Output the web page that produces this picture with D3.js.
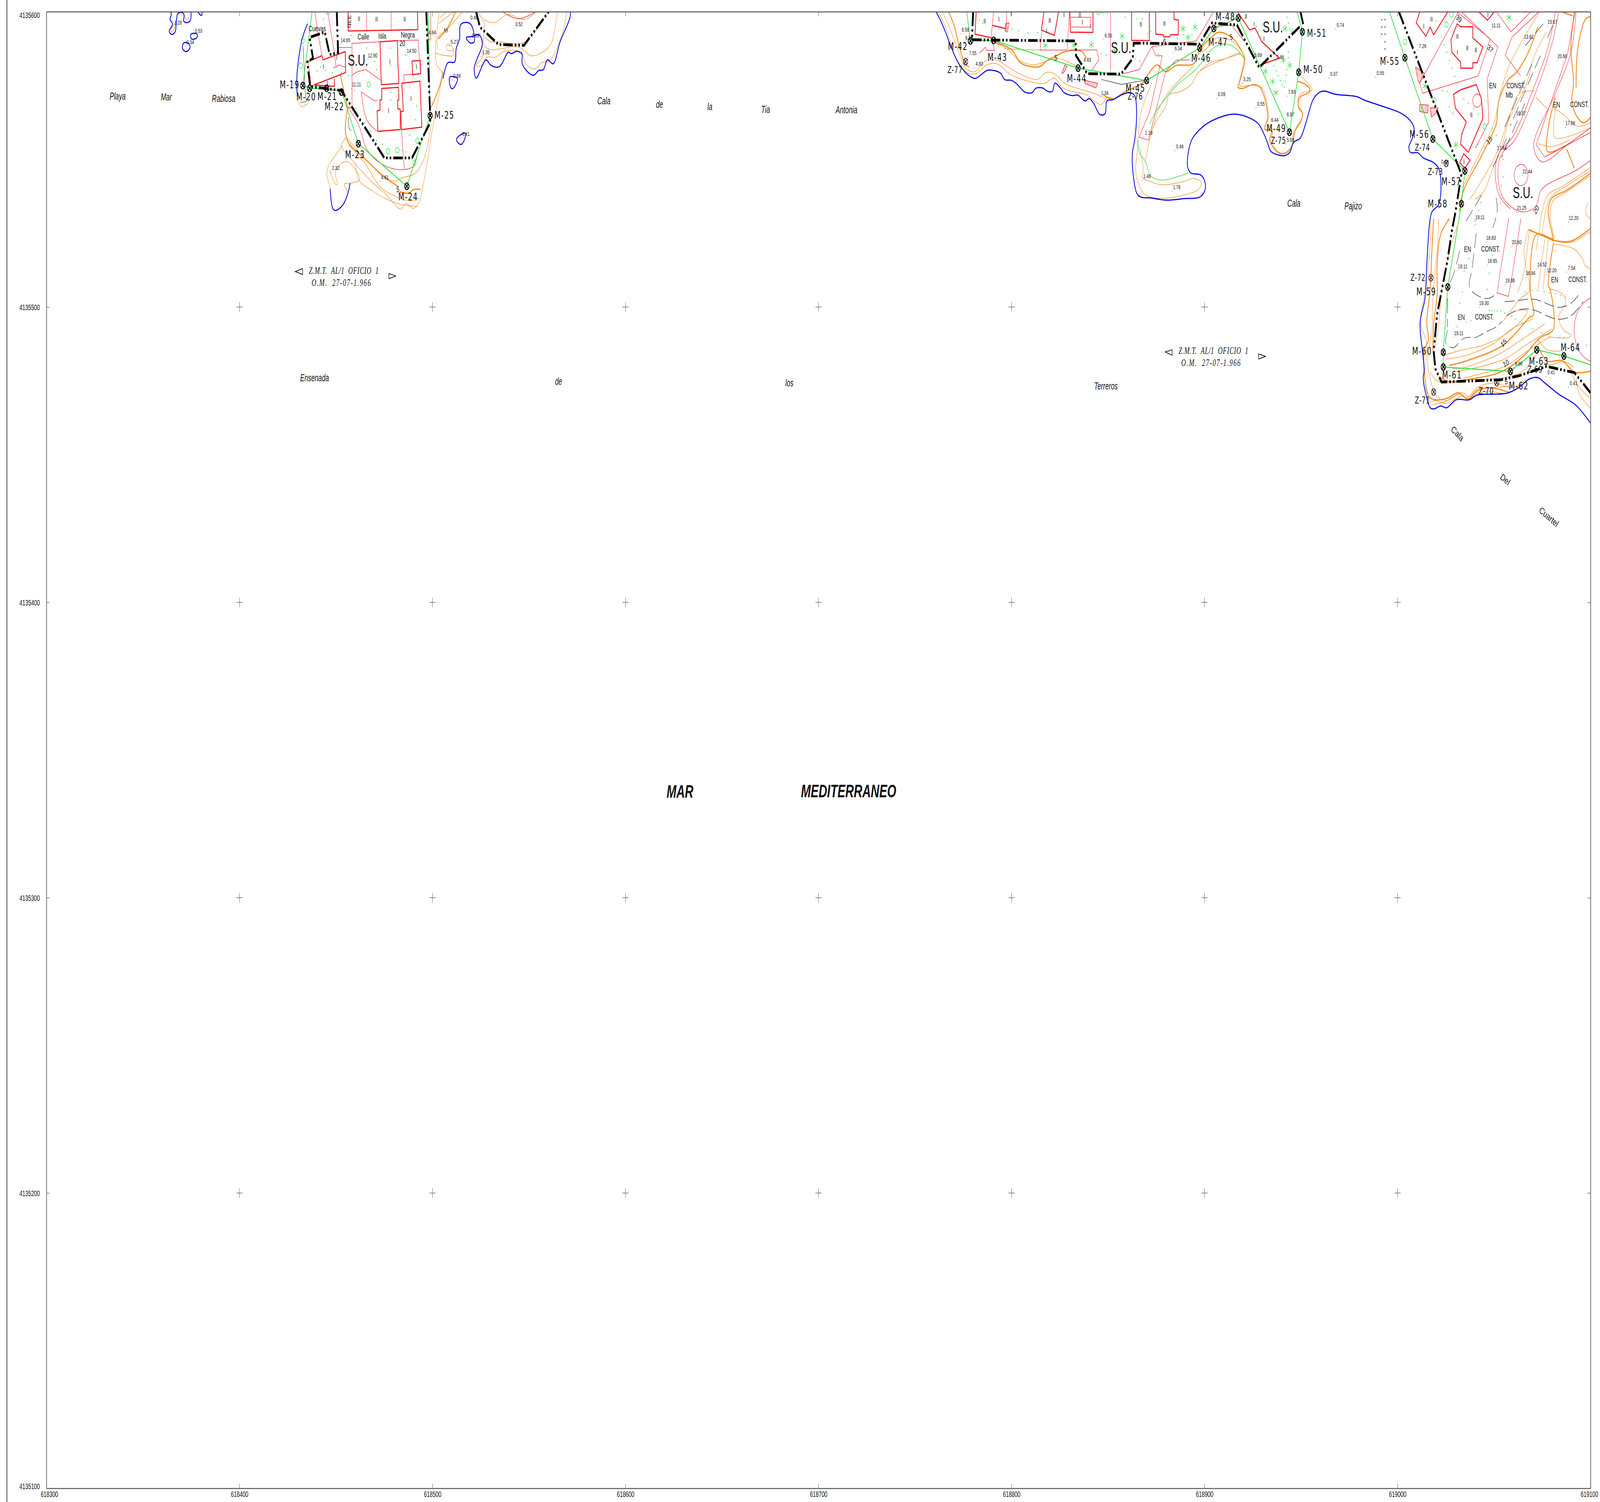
<!DOCTYPE html>
<html>
<head>
<meta charset="utf-8">
<title>Z.M.T. deslinde</title>
<script src="https://cdn.jsdelivr.net/npm/d3@7"></script>
<style>
  html, body { margin: 0; padding: 0; background: #fff; overflow: hidden; }
  svg { display: block; width: 100vw; height: 100vh; }
  text { fill: #111; font-family: "Liberation Sans", Arial, sans-serif; }
</style>
</head>
<body>
<div id="chart"></div>
<script>
// all map points are [metres east of 618000, metres north of 4135000]
var eastTicks = [618300, 618400, 618500, 618600, 618700, 618800, 618900, 619000, 619100]
var northTicks = [4135100, 4135200, 4135300, 4135400, 4135500, 4135600]

// shoreline
var coastLines = [
  [[364.3,600],[364.7,599],[364,597.5],[365.3,595.8],[363.6,593.4],[364.9,592.3],[366.7,593.2],[367.2,595.8],[367.8,599],[368.6,599.6],[370.7,599.6],[371.3,598.6],[371.1,596.8],[372.9,596.3],[374.6,597.2],[374.9,600]],
  [[378.5,600],[379.5,599],[380.4,598.8],[380.6,600]],
  [[435.3,596],[432.5,590.8],[430,580.4],[429.7,574.7],[430,571.4]],
  [[447,540],[448.2,533.6],[449.7,532.7],[453.6,534.6],[456.3,538.8],[457.3,541.9]],
  [[505.4,577.3],[507.9,582.7],[511.5,583],[512.3,587.5],[514,590.8],[514.5,595.5],[517.5,596.4],[520.1,595.5],[521.6,592.2],[521.6,589.8],[519.6,589.4],[517.5,591.2],[520.6,591.6],[524.1,592.2],[525.9,589.4],[522.6,583.2],[521.6,580.9],[522.6,577.5],[527.7,583.7],[530.2,581.9],[534.7,581.4],[539.3,586.3],[540.8,585.8],[543.8,586.6],[546.4,585.6],[546.4,582.7],[548.9,579.9],[552.5,578.5],[555,580.1],[557.5,580.4],[559.5,583.7],[562.6,582.4],[566.1,589.8],[571.2,597.9],[571.5,600]],
  [[760.9,600],[763.1,597.2],[765.8,593.1],[768.5,588.4],[772.4,582.7],[776.8,579],[781.1,577.4],[783.9,578.5],[787.2,580.1],[789.9,580.2],[794.3,579.2],[796.5,577],[799.8,576.8],[802.5,575.7],[804.2,574.5],[806.9,572.8],[810.7,572.6],[812.4,574],[815.9,574.2],[819.2,572.9],[821.2,573.1],[822.5,575.8],[825.8,573.8],[827.2,572.6],[831.6,571.6],[834.3,571.8],[838.1,569.8],[840.3,570.6],[842.5,569],[845.8,565.2],[848.5,565.5],[849.4,569.8],[852.4,570.2],[857.9,572.1],[861.7,572.6],[863.9,571.4],[864.8,566.2],[863.9,556.8],[862.6,552],[863.3,543.5],[865.5,537.9],[872.7,536.9],[880.3,536.2],[889.1,536.7],[897.9,537.4],[900.3,539.8],[900.1,542.6],[898.1,544.7],[892.9,545.4],[891.3,547.3],[891.5,552],[893.5,556.8],[899,561],[905.5,563.6],[915.4,565.3],[924,563.8],[928.3,561.7],[932.2,556.4],[934.3,552.8],[938.2,551.5],[941.5,551.3],[944.2,552.4],[946.1,555.7],[949.7,557.3],[952.4,562.1],[956.3,570.3],[959.6,572.7],[962.3,573.1],[967.4,572.1],[979.1,571.2],[982.7,570.1],[995.3,567.3],[1001.6,565.7],[1006.1,563.5],[1008.5,560.8],[1007.9,557.6],[1005.9,554.3],[1006.6,552.4],[1010.6,552.2],[1013.3,550.5],[1018.7,548.9],[1021.4,546.8],[1022.5,541.9],[1021.4,534.9],[1017.8,532.2],[1016.6,528.4],[1015.8,521.8],[1015.1,513.7],[1014.2,502.9],[1011.7,494.8],[1012.9,485.1],[1013.8,478.6],[1013.3,475.9],[1015.1,469.4],[1016.9,465.9],[1018.9,465.5],[1022.3,466.5],[1025.5,465.9],[1030.4,468.6],[1037.2,468.6],[1041.2,470.2],[1049.3,470.5],[1056.5,470.8],[1062.8,472.7],[1068.2,475.6],[1072.7,476.1],[1076.3,474.3],[1083.5,470.5],[1092.5,466.7],[1100.2,460.5]]
]
var islets = [
  [[374.9,592.4],[377.9,592.5],[378.2,591.7],[377.3,590.9],[375.1,590.8],[374.7,591.7]],
  [[371.1,589.4],[373.5,589.3],[374.4,587.9],[372.9,586.6],[371.3,586.8],[370.4,587.9]],
  [[508.9,577.8],[511,578],[513,577.3],[511.5,574.7],[510.3,573.9],[509.2,574.7]],
  [[512.5,557],[517,558.9],[517,557.5],[515,555.1],[513,555.8]]
]

// thin contours
var contoursThin = [
  [[365.3,593.2],[366.5,594.7],[366.7,596],[365.3,595],[364.3,593.4],[365.3,593.2]],
  [[371.8,600],[371.9,597.9],[372.9,597.4],[373.8,598.3],[374,600]],
  [[430.5,574.7],[430.3,570.9],[432,567.9],[435.6,569]],
  [[455.3,557.5],[452.8,554.6],[457.3,550.6],[469,542.1],[476,538.1],[480.1,535],[483.6,533.1],[486.2,535],[490.2,533.4],[493.3,536],[494.8,540.2],[497.5,549.9],[500.3,561.5],[504.4,575.7],[504.9,579.4],[502.4,581.8],[501.4,586],[503.4,599.7]],
  [[455.8,557.2],[461.9,552.5],[472,545.9],[480.1,542.6],[484.6,543.8],[491.2,545.4],[495.8,550.6],[499.3,561.5]],
  [[456.3,554.9],[464.9,548.7],[473,540.7],[481.1,537.4],[488.2,536],[493.3,536.9]],
  [[459.9,548.7],[461.9,543.1],[469,539.3],[478.1,536],[484.6,534.6],[492.2,534.1]],
  [[453.3,554.6],[446.2,547.8],[445.2,545.4],[447.2,540]],
  [[446.7,546.4],[449.7,541.6],[450.7,541.6],[449.7,545.9],[454.8,549.3],[457.8,548.3],[462.4,543.3],[457.3,541.9],[454.3,541.6],[456.3,538.8]],
  [[502.9,587],[502.4,590.8],[508.4,594.6],[515.5,600]],
  [[503.4,597.9],[507.4,600]],
  [[503.4,596],[511,600]],
  [[507.4,588.9],[509.9,588.4],[510.5,587],[508.4,586.8],[507.2,587.7],[507.4,588.9]],
  [[501.4,586],[507.4,585.1],[511,585.3],[510.5,587.7]],
  [[523.1,600],[526.6,596.4],[526.6,588.9],[530.2,587.2],[535.8,587.5],[542.3,588.2],[546.4,587.5],[550.9,585.1],[557,586.3],[561.6,589.4],[564.6,599.7]],
  [[526.6,591.7],[530.2,589.8],[534.2,589.8],[547.4,589.6],[555,595],[559.5,600]],
  [[524.6,592.7],[526.1,585.1],[522.6,581.8],[525.5,581.8],[528.1,584.6],[532.7,584.6],[536.8,586.5],[543.8,586.8],[546.9,585.6],[547.9,582.7],[553,580.6],[556.5,582.7],[561.1,583.7],[567.1,592.2],[569.6,600]],
  [[526.6,597.4],[530.2,596.4],[532.6,596.4],[538.8,599],[547.9,597.4],[553.7,600]],
  [[762,600],[766.3,594.1],[770.7,585.1],[774.6,580.9],[778.4,579],[782.2,579.2],[787.2,582],[792.7,582.3],[798.1,579.4],[803.6,577.5],[811.3,576.1],[816.8,575.7],[822.2,577.5],[826.6,574.2],[833.2,572.8],[838.7,571.9],[846.4,568.6],[849.6,570.9],[852.9,570.5]],
  [[764.2,600],[768.5,593.6],[772.9,586],[776.2,580.9],[781.1,579.7],[786.1,583.2],[792.7,583.5],[799.2,580.9],[805.8,578.5],[813.5,577.1],[817.9,579.4],[822.2,579],[827.7,575.7],[835.4,573.8],[843.1,572.3],[849.1,570.5]],
  [[791.6,589.4],[798.1,587.2],[803.6,583.7],[811.3,582],[816.8,583],[823.3,584.2],[828.8,583.2],[835.4,580.9]],
  [[796,587.5],[807,587.2],[816.8,587]],
  [[920.6,584.6],[919.5,580.2],[917.9,575.8],[918.4,574.9],[925.6,575.1],[930,574],[931.9,570.5],[933.3,564.3],[932.7,562.1],[935.4,559.9],[934.9,556.4],[937.6,552.8],[941.5,552.2],[944.8,554.2],[946.4,557.3],[947.5,560.8],[950.8,564.3],[950.3,566.5],[948.3,568.7],[949.7,572.2],[955.7,573.6],[953.5,575.8],[950.3,578]],
  [[897.6,580],[903.1,582.8],[911.3,584.2],[917.9,585.9],[921.2,583.7]],
  [[897.6,585.9],[902,588.1],[905.8,591],[911.9,590.8],[916.2,589],[919.5,586.4]],
  [[866.1,554.4],[868.3,546.8],[867.7,544],[871.6,542.6],[878.1,541.4],[888,542.3],[894.6,543.5],[898.4,542.1],[896.8,539.8],[890.2,538.1],[880.3,536.9],[872.7,537.1],[868.3,538.6],[864.5,545],[865,552],[867.2,566.2],[872.7,575.7]],
  [[869.4,549.7],[871.6,556.8],[873.8,561.5],[880.3,568.6],[881.5,571.9],[886.9,572.8],[892.9,575.2],[896.8,579.4],[905.5,582.7],[918.7,585.8]],
  [[872.7,559.1],[876,566.7],[881.5,572.8],[894.6,581.8]],
  [[1077.2,593.2],[1070.9,585.1],[1066.4,574.8],[1057.4,563],[1050.2,550.5],[1037.6,536.5]],
  [[1073.6,600],[1067.3,593.2],[1058.3,582.4],[1053.8,573.8],[1049.8,561.9],[1043,552.7],[1033.6,540.3]],
  [[1070.9,573.2],[1062.8,572.1],[1058.3,565.1],[1053.8,553.8],[1049.3,546.8],[1044.8,539.2],[1040.3,536.5]],
  [[1082.6,569.4],[1080.8,560.8],[1081.7,557.3],[1100.2,560.8]],
  [[1080.8,567.3],[1086.2,565.1],[1092.5,561.3],[1100.2,562.4]],
  [[1072.7,555.4],[1079.9,554.3],[1088.9,556.5]],
  [[1071.6,571.1],[1077.7,567]],
  [[1100.2,547.3],[1085.3,540.8],[1078.1,538.1],[1075.4,533.8],[1073.2,525.2],[1071.8,519.3]],
  [[1100.2,546.2],[1087.1,540.8],[1079,537],[1076.8,532.7],[1075,525.2]],
  [[1100.2,544.6],[1088,539.2],[1080.4,535.7],[1079,531.6],[1081.2,523.5]],
  [[1080.8,522.5],[1089.8,521.9],[1100.2,525.7]],
  [[1098.8,535.4],[1097.4,532.2],[1100.2,529.5]],
  [[1016.9,529.9],[1016.9,521.3],[1015.1,508.3],[1011.9,494.8],[1015.1,487.8],[1014.2,475.9],[1016.9,467.8]],
  [[1021.4,529.9],[1020.5,519.1],[1019.6,513.7],[1018.3,501.8],[1017.8,492.1],[1015.6,481.3],[1016.9,475.9],[1019.6,470.5],[1025,468.3],[1032.2,470.5],[1035.8,469.2],[1041.2,472.7],[1050.2,474.3],[1059.2,472.7],[1065.5,474.8]],
  [[1030.8,527.2],[1026.8,518.6],[1023.2,507.2],[1021.4,494.8],[1019.6,486.7]],
  [[1016.9,478.1],[1019.6,475.4],[1026.8,474.3],[1037.6,475.4],[1053.8,475.9],[1065.5,478.6],[1072.7,485.1],[1073.2,488.9]],
  [[1023.7,483.5],[1031.3,485.1],[1044.8,487.2],[1056.5,491],[1065.5,496.4],[1067.3,498.6],[1062.8,498.9],[1057.4,497.5]],
  [[1025,482.4],[1034.9,483.5],[1050.2,487.8],[1059.2,492.6],[1070,495.9]],
  [[1028.6,479.1],[1035.8,479.7],[1053.8,484.5],[1062.8,488.3],[1076.3,494.3]],
  [[1031.3,478.1],[1055.6,482.4],[1065.5,486.7],[1079.9,492.6]],
  [[1034,475.9],[1056.5,480.2],[1067.3,485.1],[1079,489.9]],
  [[1054.7,495.3],[1063.7,502.9],[1068.2,505.6],[1065.5,519.1],[1067.8,526.4]],
  [[1062.4,505],[1065.5,512.1],[1068.2,525.6]],
  [[1072.7,506.1],[1076.3,522.9]],
  [[1075.4,506.1],[1078.1,522.9]],
  [[1079,506.1],[1085.3,504.5],[1087.1,501.8],[1083.5,496.4],[1086.2,492.1],[1089.8,490.5],[1088.9,489.7],[1078.1,489.9]],
  [[1072.3,489.4],[1077.2,485.6],[1084.4,485.1]],
  [[1092.5,475.9],[1094.3,470.5],[1100.2,465.6]],
  [[1080.8,521.3],[1091.6,519.6],[1096.1,515.9],[1097,514.2],[1100.2,512.9]],
  [[1016.9,467.8],[1019.6,468.3],[1025,467.3],[1033.1,469.7],[1037.2,468.9],[1041.2,470.8],[1049.3,471.3],[1056.5,470.8],[1063.7,473.7],[1066.4,475.9]],
  [[1017.8,467],[1024.1,467.8],[1033.1,471],[1037.2,469.7],[1041.2,472.1],[1049.3,472.7],[1059.2,473.2]],
  [[1075.4,481.3],[1079,480.5],[1086.2,481.6],[1091.2,479.7]],
  [[1089.8,478],[1094.3,472.7],[1100.2,468.9]]
]

// every fifth contour, drawn heavier
var contoursThick = [
  [[452.3,578.5],[454.8,570.9],[455.8,567.6],[454.8,560.1],[456.3,555.8],[461.9,552],[468,548.3],[474,544.5],[482.1,540.9]],
  [[483.1,539],[487.7,538.6],[490.2,539.8],[493.8,539.8]],
  [[499.3,567.6],[503.9,575.2],[505.4,579.9]],
  [[502.9,590.8],[507.4,594.1],[512,600]],
  [[455.8,567.6],[458.8,567.5]],
  [[767.4,600],[770.2,595.5],[772.9,588.4],[775.7,582.7],[777.9,581.3]],
  [[791,589.8],[800.3,587],[804.7,582.7],[814.6,581.4],[817.9,583.2],[823.3,585.1],[827.7,586.5],[836.5,586.5],[838.7,584.2]],
  [[847.5,571.9],[852.4,570.4],[857.3,572.3],[861.7,573.8],[868.3,576.1],[870.5,578.5],[875.4,582],[879.8,579.7],[885.3,581.8],[894.6,582.5],[897.9,587.5],[903.4,591.2],[906.9,593],[911.3,592.4],[915.7,590.3],[920.1,585.5],[920.9,583.7],[919.8,580.2],[918.4,576.7],[917.3,574.5],[919.5,574],[925,575.3],[928.3,574.7],[930.5,572.2],[932.7,564.3],[931.6,561.7],[931.1,560.3],[934.9,559.5],[933.8,556.8],[936,553.7],[939.3,552],[943.1,552.6],[945.3,554.6],[946.4,559],[950.3,563.4],[950.8,565.6],[948.6,567.8],[949.2,570.9],[954.1,572.7],[954.6,573.6],[952.4,575.3],[948.3,576.4]],
  [[1072.7,594.8],[1067.3,585.6],[1061.5,579.4],[1057.4,577],[1052.5,570],[1051.1,561.9],[1047.5,556.5],[1043,550.5],[1035.8,541.9],[1033.1,537],[1032.2,532.2]],
  [[1091.6,600],[1089.8,587.8],[1091.2,575.9],[1090.3,570.5],[1091.6,566.2],[1096.1,562.4],[1100.2,564.3]],
  [[1100.2,598.3],[1097.4,597.5],[1093.4,587.8],[1092.5,574.3]],
  [[1084.9,600],[1090.7,598.6]],
  [[1081.7,571.1],[1078.1,560.8],[1077.7,552.7],[1088.9,555.4]],
  [[1087.6,553.5],[1091.6,547]],
  [[1100.2,545.4],[1088,539.7],[1079.5,536.5],[1078.1,532.2],[1080.8,523]],
  [[1068.2,526.2],[1080.8,522.5]],
  [[1018.7,529.9],[1017.8,519.1],[1016.9,505.6],[1015.1,494.8],[1016,488.9],[1013.8,485.1],[1015.6,470.5],[1017.8,468.9],[1022.3,468.6],[1026.8,469.4],[1031.3,471],[1036.7,468.9],[1041.2,471.6],[1047.5,472.7],[1058.3,471]],
  [[1026.8,529.9],[1022.3,524.5],[1020.5,514.2],[1020.5,504],[1018.7,494.3],[1018.3,485.1]],
  [[1021.4,476.4],[1026.8,474.8],[1037.6,475.6],[1053.8,478.1],[1065.5,483.5],[1071.8,488.3],[1074.5,489.9],[1080.8,492.6],[1079,506.1],[1078.1,507.2],[1080.8,521.8]],
  [[1026.8,480.2],[1035.8,481.8],[1053.8,486.7],[1061,491],[1068.2,496.4],[1070.5,497.5],[1068.7,506.1],[1071.8,524.5],[1080.8,522.3]],
  [[1073.6,485.6],[1077.2,481.8],[1085.3,481.8],[1091.6,478],[1100.2,478.3]],
  [[1080.8,522.6],[1089.8,522.3],[1100.2,526.7]],
  [[1067.8,526.1],[1080.8,522.9]]
]

// contours of the green colour along the beach
var greenCurves = [
  [[871.6,562],[874.8,566.2],[882.5,572.8],[885.8,575.2],[894.6,579.9],[899,583.2],[903.1,586.8],[906.9,588.6],[912.4,588.9],[916.8,587.2],[920.9,583.7]],
  [[865.5,556.8],[866.1,552.5],[869.4,549.2],[872.1,544.5],[878.1,543],[891.8,545.5]]
]

// poligonal de deslinde (green)
var greenLines = [
  [[437.6,600],[432.8,575],[436.6,574.1],[452.8,573.3],[461.6,555.3],[486.7,540.9],[498.8,564.8],[497.8,600]],
  [[776.8,600],[778.7,590.1],[790.7,590.3],[834.5,580.9],[870,576.7],[897.5,587.7],[904.8,594.3],[917.5,597.9],[944,559.2],[948.8,579.5],[950.7,593.2],[948,600]],
  [[995.8,600],[1003.8,584.4],[1018.3,556.9],[1034.9,546.1],[1033.1,535],[1026,506.8],[1023.7,484.7],[1023.7,479.7],[1058.5,478.2],[1072.1,485.5],[1086.2,483.4],[1100.2,480.4]]
]

// zona maritimo-terrestre limit, dash-dot
var boundaries = [
  [[450.4,600],[451.1,586.1],[446.7,585.5],[444.2,593.1],[436.3,591.3],[438.1,584.2],[435.1,583],[436.6,574.7],[452.8,573.3],[474.5,551.1],[475,550.5],[489.4,550.5],[498.8,562.4],[498.8,564.8],[496.8,600]],
  [[522.6,600],[524.6,594.8],[534.2,588.9],[547.4,588.6],[560.2,600]],
  [[780.1,600],[779.5,590.5],[833.2,590.1],[833.4,585.1],[836.5,582],[839.2,579],[856.8,578.9],[862.8,584.2],[863.3,589.4],[897.3,589],[903.9,596.2],[916.8,595.5],[928.3,581.1],[949.7,595.2]],
  [[949.7,600],[951.1,595.8]],
  [[1000.7,600],[1033.1,544.9],[1030,532.2],[1028.2,526],[1025.9,515.9],[1020.5,497.5],[1018.7,485.1],[1019.6,479.1],[1022.8,474.6],[1053.8,475.4],[1062.8,476.7],[1077.2,479.9],[1091.6,477.8],[1100.2,470.8]]
]

// buildings
var buildingsClosed = [
  [[472.8,589.8],[481.8,590.2],[482.1,582.7],[482.6,575.7],[473.5,575.3]],
  [[489.4,583.3],[493.8,583.5],[493.8,579],[489.7,578.7]],
  [[484.1,575.8],[493.5,576.5],[494.5,560.9],[483.9,560.1],[483.6,566.2],[484.9,566.3]],
  [[473.7,574],[482.4,574.4],[482.6,570.2],[481.9,570],[482.1,567.2],[483.3,566.9],[483.3,560.1],[471.7,559.5],[471.3,566.4],[472.8,566.7],[472.8,570.1],[473.7,570.2]],
  [[1030.9,595.9],[1027.7,590.5],[1028.2,586.2],[1032.7,582.9],[1032.7,580.9],[1039,580.9],[1039,582.7],[1041.2,582.7],[1044.2,588.1],[1039,591.1],[1039,594.9],[1032.7,594.9]],
  [[1029,572],[1032.4,573.5],[1040.8,575.3],[1043.5,570.5],[1044.2,563.8],[1036.7,552.4],[1032.7,555.1],[1033.1,558.1],[1035.6,562.7],[1030,567.3]],
  [[1034.3,551.9],[1037.6,549.7],[1034.9,547],[1032.2,548.9]]
]
var buildingsOpen = [
  [[456.3,600],[456.3,593.5],[492.4,593.9],[492.2,600]],
  [[435.1,583],[442.7,585.1],[443.2,583.7],[454.8,586.5],[455,579.4],[438.6,575.2],[449.2,574.7],[449.2,577.3]],
  [[781.7,600],[781.1,592.4],[789.4,591.2]],
  [[789.9,595.4],[797,594.3]],
  [[816.8,600],[815.5,593.8],[822.2,592],[824.4,600]],
  [[830.2,600],[830.5,593.1],[842.2,593],[842.2,600]],
  [[862.2,600],[862.2,590.3],[871.4,590.2],[871.4,600]],
  [[874.7,600],[874.7,592.4],[878.7,592.2],[878.7,591.5],[882,591.5],[882.3,592.2],[886.4,592.2],[886.4,597.2],[884.2,597.4],[884.2,600]],
  [[917,600],[923.4,593.8],[926.2,594.5],[929.5,590],[938.8,584.3],[929,582]],
  [[1011.5,600],[1009.7,596.2],[1014.7,591.7],[1016.9,594.8],[1018.7,592.2],[1026.1,600]],
  [[1042.1,600],[1046.6,597.1],[1050.2,600]]
]

// parcels
var parcels = [
  [[465.9,600],[465.9,593.6]],
  [[478.6,600],[478.6,593.7]],
  [[458,589.3],[473,589.8],[481.8,590.2],[492.5,590.4],[493.8,579],[485.1,578.6],[485.4,576.1]],
  [[458.3,589.3],[458.3,567.6]],
  [[463.1,572.8],[469.8,569.9],[471.5,569.9]],
  [[458.3,578.5],[461.1,579.7],[465.4,580.4],[473.2,576.8]],
  [[483.9,560.1],[485.4,546.6]],
  [[451.6,587.9],[458,587.9]],
  [[439.1,600],[440.6,592.7],[443.2,583.7]],
  [[445.7,600],[448.7,587.9],[450.2,580.9]],
  [[448.5,580.9],[451.6,582],[455,581.1]],
  [[437.1,575.7],[435.6,583]],
  [[496.8,600],[497.8,590.5],[499.1,590.5],[499.1,600]],
  [[797.6,600],[797,593.4]],
  [[790.7,600],[789.4,591.2],[791.3,586.9],[787,586.9],[786.6,588],[783.3,586]],
  [[815.7,593.8],[814.8,587],[828.8,587],[829.9,600]],
  [[829.7,587],[844.2,587.1],[845.3,583.7],[841.4,580.1]],
  [[851.3,600],[851.3,579.9]],
  [[857.9,579],[866.1,580.4],[872.7,588.2],[895.7,590.1],[904.4,599.7]],
  [[872.7,588.2],[874.8,585.1],[878.1,585.1],[871.6,566.2],[866.1,557.5],[871,556.5],[879.8,579.7],[885.3,583.6],[892.4,583.7]],
  [[830.5,598.1],[840.9,598.1],[840.9,594.8],[831,594.8]],
  [[903,594.8],[914,595.5],[920.5,590]],
  [[1031.3,599.7],[1011.5,575.9],[1012.9,572.4],[1041.7,578.2],[1048,590.8],[1030.8,600]],
  [[1051.5,599.7],[1058.8,593.2],[1069.1,600]],
  [[1052,588.1],[1046.4,577.2],[1047.1,566.2],[1047.1,562.4],[1040.3,553.8]],
  [[1052,588.1],[1033.1,600]],
  [[1059.2,591.3],[1055.8,585.3],[1063.7,578.3]],
  [[1059.2,591.3],[1073.2,600]],
  [[1057.6,529.9],[1053.1,511.4],[1051.6,504.8],[1057.4,503.6],[1059.2,509.9],[1063.9,529.9]],
  [[1092,599.7],[1088,585.6],[1071.8,554.9],[1076.3,550.8],[1100.2,559.2]]
]
// same colour but rounded
var parcelCurves = [
  [[456.3,567.6],[461.9,561.5],[465.9,553.5],[474,548.3],[484.1,546.5],[490.2,547.8],[492.2,552]],
  [[463.1,572.8],[465.9,563.4],[471.5,559.5]],
  [[536.2,600],[544.4,597.6],[553.5,600]],
  [[1083.5,600],[1079.9,588.9],[1070,570],[1060.6,556.5],[1053.8,551.6],[1052,546.2],[1053.8,538.1],[1059.2,533.8],[1065.5,532.2],[1071.8,534.3],[1074.5,539.7],[1092.3,546.2],[1100.2,549.7]],
  [[1081.7,600],[1078.1,588.3],[1068.7,571.1],[1059.7,557.6],[1052.9,552.7],[1050.6,546.8],[1052.5,538.1],[1058.3,533.3]],
  [[1092.5,600],[1089.8,586.2],[1081.3,571.6],[1070.5,554.6],[1074.7,549.2],[1088.9,555.4],[1100.2,560.8]]
]
var parcelCircles = [[1041.2,569.9,2.25],[1064,544.7,3.6],[1102.4,492.3,10.9]]

// stair hatch
var stairs = [
  [[838.1,576.8],[844.7,575.7],[843.6,574.2],[838.1,575.7]],
  [[827.7,582],[828.8,581.3],[826.6,579],[826.1,579.4]],
  [[797,596],[798.7,596.2],[797.9,593.1],[796.7,593.4]],
  [[1009.3,581.3],[1013.8,579.2],[1011.5,575.7],[1010.6,576.5]],
  [[1011.5,568.6],[1016,568.4],[1015.6,565.7],[1011.5,566.2]],
  [[1016.9,567.5],[1021,567.4],[1020.1,565.7],[1017.5,564.3]]
]

// thin black cliff lines
var cliffLines = [
  [[846.4,577.1],[856.8,575.4],[869.4,576.8]],
  [[433,588.4],[434,573.3],[434.6,569.5],[431.5,569.3]],
  [[456.3,564.3],[456.8,560.5],[457.8,559.8]]
]
var cliffDashed = [
  [[1025.9,492.1],[1025,487.8],[1029,486.2],[1033.1,488.9],[1035.8,489.7],[1040.3,489.7],[1043,490.5],[1047.5,492.1],[1050.2,492.9],[1054.2,495.1]],
  [[1025.9,502.9],[1025.9,493.2]],
  [[1040.8,525],[1038.5,512.6],[1037.2,507.2],[1039.4,504.8],[1047,502.9],[1051.6,504.8]],
  [[1032.2,519.1],[1029.5,512.1],[1026.8,507.8]],
  [[1055.6,501.8],[1061,502.1],[1070.9,502.6],[1083.5,499.9],[1089.8,501.3],[1094.3,504.5]],
  [[1056.5,497],[1062.8,499.1],[1070,499.1],[1082.6,495.9],[1089.8,497],[1096.1,501.8]],
  [[1075.4,595.9],[1066,588.3]],
  [[1080.4,595.4],[1077.6,591]],
  [[1074,585.1],[1058.3,561.3]],
  [[1069.6,582.4],[1054.7,559.7]],
  [[1065.9,568.9],[1053.8,550.5]],
  [[1056.5,557],[1049.3,547.3]],
  [[1051.1,537],[1051.6,532.2],[1049.3,526.8]],
  [[1043.5,537.9],[1034.9,528.4]]
]

// monument markers
var mojonNames = ['M-19','M-20','M-21','M-22','M-23','M-24','M-25','M-42','M-43','M-44','M-45','M-46','M-47','M-48','M-49','M-50','M-51','M-55','M-56','M-57','M-58','M-59','M-60','M-61','M-62','M-63','M-64']
var mojonPoints = [[432.8,575],[436.4,574.1],[445.2,574.1],[452.8,572.8],[461.6,555.3],[486.7,540.9],[498.8,564.8],[778.7,590.1],[790.7,590.3],[834.5,580.9],[870,576.7],[897.5,587.7],[904.8,594.3],[917.5,597.9],[944,559.2],[948.8,579.5],[950.7,593.2],[1003.8,584.4],[1018.3,556.9],[1034.9,546.1],[1033.1,535],[1026,506.8],[1023.7,484.7],[1023.7,479.7],[1058.5,478.2],[1072.1,485.5],[1086.2,483.4]]
var mojonLabelPoints = [[426,575.3],[434.6,571.3],[445.5,571.4],[449.2,568],[459.9,551.7],[487.4,537.4],[506.2,565],[772.2,588.3],[792.7,584.6],[833.8,577.5],[864.2,574.2],[898.2,584.4],[907,589.8],[910.8,598.4],[937.2,560.6],[956.3,580.5],[958.2,592.8],[996,583.3],[1011.3,558.5],[1027.9,542.6],[1020.8,535],[1014.9,505.3],[1012.7,485.1],[1028.2,477.1],[1062.8,473.4],[1073.2,481.7],[1089.6,486.4]]

var zNames = ['Z-69','Z-70','Z-71','Z-72','Z-73','Z-74','Z-75','Z-76','Z-77']
var zLabelPoints = [[1071.2,478.9],[1045.9,471.7],[1012.9,468.5],[1010.6,510],[1019.6,545.8],[1012.9,554],[938.3,556.4],[864.1,571.4],[770.7,580.4]]
var zPoints = [[1051.4,474.4],[1018.7,471.2],[1017.3,509.9],[1025.2,548.6],[776.2,583.1]]

// spot heights
var spotHeights = [
  ['1.28',368.2,596.3],['0.53',378.8,593.6],['0.34',374.5,589.7],['14.65',454.9,590.4],['12.90',469,585.3],['14.50',489.2,586.8],['11.11',460.6,575.4],['14.84',499.3,593],['5.27',511.3,589.9],['0.89',522.3,592],['0.40',521.6,598.1],['3.52',544.8,595.8],['1.35',527.7,586.3],['0.68',512.7,578.3],['0.41',517.3,558.7],['2.32',449.9,547.1],['4.61',475.3,544],
  ['8.58',776.1,594],['6.55',778,591.2],['7.55',779.9,586],['4.83',783.3,582.5],['4.83',839.3,583.8],['6.55',850.2,592],['6.34',886.4,587.6],['1.34',848.3,572.6],['1.16',871.1,559],['0.46',887.2,554.4],['1.48',870.2,544.3],['1.76',885.6,540.7],['0.09',908.8,572.1],['3.25',922,577.2],
  ['5.69',927.8,585.4],['7.46',939.1,584.7],['0.74',970.4,595.6],['0.37',967,579],['7.83',945.2,572.9],['6.97',944.5,565.2],['6.44',936.4,563.4],['5.69',944.5,556.7],['0.55',929.2,568.9],
  ['0.55',991.1,579.3],['7.26',1013,588.4],['11.11',1051.1,595.4],['13.62',1068,591.6],['15.67',1080.2,596.6],['20.66',1085.3,585],['18.37',1063.9,565.7],['17.68',1089.5,562.3],['17.44',1054,553.9],['21.44',1067.3,546],['21.25',1064.3,533.6],['19.11',1042.7,530.5],['12.20',1091.2,530.2],['18.83',1048.4,523.5],['20.60',1061.7,522],['0.89',1024.6,549.2],
  ['18.65',1049.1,515.6],['19.11',1033.7,513.8],['14.52',1074.9,514.5],['7.54',1090.2,513.3],['12.20',1079.9,512.5],['16.94',1068.9,511.5],['19.86',1058.3,509],['19.30',1044.8,501.4],['19.11',1031.7,491.2],['8.88',1062.8,480.9],['0.41',1079.6,477.9],['0.41',1091.2,474.3]
]
// floors of buildings
var floorMarks = [
  ['II',461.9,597.6],['II',471,597.5],['II',485.6,597.5],['I',450.4,584.6],['I',443.5,581.4],['I',477.9,583.1],['I',491.7,581.4],['I',488.9,570.7],['I',477.2,566.5],['I',445.7,575.8],
  ['II',786.1,596.9],['I',793.5,597.5],['II',819.8,597.1],['I',818.2,593.5],['II',835.4,599],['I',836.7,596.5],['I',840.9,595.1],['II',867,595.8],['II',879.2,596],['I',827.2,599],['I',799.8,599.3],['I',899.8,599.3],['II',921.4,598.4],['I',925.7,595.8],['I',930.8,590.9],
  ['II',1017.6,597.5],['I',1013.6,595.1],['II',1031,591.7],['II',1036.1,587.7],['II',1040.6,587],['I',1031,586.3],['II',1038.2,565.1],['I',1034.4,549.2],['I',1046.8,598.9]
]
var roadLabels = [['Calle',464.2,591.5],['Isla',474,591.8],['Negra',487.2,592.2],['Cuevas',440.3,594.4],['20',484.4,589.3],['6',879.2,590],['EN',1049.3,575],['CONST.',1061.3,575],['Mb',1057.9,571.9],['EN',1082.4,568.6],['CONST.',1094.3,568.7],['EN',1036.3,519.6],['CONST.',1048.2,519.8],['EN',1081.4,509.3],['CONST.',1093.4,509.4],['EN',1033,496.6],['CONST.',1045,496.7]]
var suLabels = [[461.4,583.7],[856.8,587.9],[935.4,595],[1065,538.8]]
var contourLabels = [['33b',457.1,596.7,90],['5',506.9,593.8,-60],['5',482.1,539.8,0],['5',823,584.4,0],['5',913.8,591.5,-15],['39',1031.8,597.7,35],['37',1048,587.5,35],['15',1047.5,556.5,-45],['20',1071.8,533,-50],['15',1054.9,487.9,-40],['10',1056.1,481,-25],['5',1056.2,474.8,-10]]

// place names on the sea
var seaLabels = [['Playa',336.9,571.4,0],['Mar',362.1,571.2,0],['Rabiosa',391.8,570.7,0],['Cala',588.8,569.8,0],['de',617.6,568.7,0],['la',643.7,567.9,0],['Tia',672.6,566.9,0],['Antonia',714.5,566.8,0],['Ensenada',438.9,476,0],['de',565.3,474.9,0],['los',684.9,474.4,0],['Terreros',848.9,473.3,0],['Cala',946.3,535.2,0],['Pajizo',977,534.3,0],['Cala',1031,457.2,35],['Del',1055.8,441.7,30],['Cuartel',1078.4,429,30]]
var seaTitle = [['MAR',628.2,336],['MEDITERRANEO',715.6,336.2]]

// Z.M.T. notes, line 1 / line 2 / left arrow / right arrow
var zmtLine1 = 'Z.M.T.  AL/1  OFICIO  1'
var zmtLine2 = 'O.M.  27-07-1.966'
var zmtNotes = [
  { a: [454,512.5], b: [452.7,508.4], left: [[428.9,512],[432.7,513],[432.7,511]], right: [[477.4,511.3],[477.4,509.6],[481.1,510.5]] },
  { a: [904.6,485.3], b: [903.3,481.2], left: [[879.5,484.8],[883.2,485.5],[883.2,483.7]], right: [[928,484.1],[928,482.4],[931.7,483.3]] }
]

// vegetation
var treeCircles = [[445.9,600],[431.8,581.7],[432.7,590.2],[467,575.4],[492.2,556.3],[477,552.7],[481.8,553.1],[490.7,548.8],[1027.9,599.1],[1025.3,595.7],[1003.9,589.7],[1045.1,561.1],[1019,570],[845,600]]
var palmStars = [[817.5,588.6],[832.3,588.6],[841.4,588.8],[857.3,591.7],[853.5,586.8],[888.9,594.3],[895.1,594.8],[891.5,591.3],[941.8,594.3],[945.6,593],[940.9,583.6],[944.2,581.9],[931.6,579.8],[935.3,576.4],[936.9,572.6],[1057.8,598],[1014.2,574.8],[1030.2,554.9]]
var greenDots = [
  [443.5,597.4],[441.8,589.6],[442.1,581.3],[440.1,579.9],[444.7,580.1],[448.2,579.4],[452.8,579.4],[456.3,578.5],[458,592],[465.9,587.7],[470,583.2],[471,580.4],[478.1,587.7],[478.3,581.8],[478.1,575.4],[478.6,572.8],[478.4,570],[482.6,572.8],[482.6,570],[486,585.3],[488.2,574.5],[491.7,568.1],[488.2,558.2],[491.2,563.4],[459.4,573.3],[460.4,567.2],[464.9,562.4],[468,559.6],[474,555.1],[471,556.3],[484.1,553],[486.2,552.5],
  [782.8,599.7],[783.3,597.2],[785,596.2],[800.3,594.1],[803.6,593.6],[808.5,592.7],[813.5,592.9],[846.4,585.8],[849.1,585.3],[864,584.2],[866.6,583.2],[876,585.6],[865,597.6],[867.7,597.6],[870.5,592.7],[872.1,593.4],[859,598.1],[847.2,599.5],[849.6,599.3],[885.8,591],[889.1,592.2],[893.5,592.2],
  [934.9,583.3],[936,581.7],[937.1,580],[938.2,578.3],[939.3,576.7],[940.4,575.1],[941.4,574.5],[942.3,578.5],[942.9,580.4],[943.4,584.4],[943.4,586.4],[941.8,576.4],[942.9,598],[943.4,596.1],[944.2,594.1],[929.1,591.5],[928,593.2],[931.4,588.3],[926.9,595],[923.4,600],[903.1,600],
  [1020.1,596.8],[1022.8,591.5],[1024.1,588.8],[1025.5,586.2],[1027,583.5],[1028.3,580.8],[1029.8,578.1],[1031.3,575.8],[1023.2,573.2],[1025.9,573],[1028.6,565.6],[1026.8,567.8],[1034.3,570.5],[1036.7,568.9],[1039.4,567.3],[1041.7,565.4],[1048.9,560.5],[1051.1,558.1],[1045,554.3],[1041.7,555.1],[1039.2,554.3],[1054.7,550],[1054.7,544.1],[1053.8,541.1],[1053.4,535.1],[1043,535.4],[1040.3,529.5],[1042.1,532.7],
  [1047.5,498.9],[1048.9,498.7],[1050.2,498.7],[1051.6,498.7],[1053.4,498.6],[1055.6,498],[1059.2,497],[1061,495.9],[1064.6,494.5],[1070,492.6],[1074.5,491.3],[1078.1,490.7],[1084,489.7],[1086.2,489.7],[1090.7,488],[1097.9,487],
  [1040.3,528],[1036.9,516.4],[1034.5,512.1],[1033.6,505.1],[1032.2,501.3],[1030.9,493.3],[1035.8,494.9],[1038,495.4],[1047.5,511.5],[1049.3,517.5],[1046.4,505.9],[1045.2,502.9],[1066.4,505],[1069.6,505.6],[1072.7,505.6],[1075.9,505.3],[1078.6,504.8],[1081.7,504.5],[1084.4,503.9],[1087.1,503.4],[1090.7,502.9]
]
var blackDots = [[993.5,597.3],[993.5,594.8],[993.5,592.4],[993.5,589.8],[993.5,587.4],[994,584.8],[991.8,597.3],[991.8,594.8],[991.8,592.4]]

var drawViz = function () {
  // sheet size; the svg is stretched to whatever window it gets
  const width = 6267
  const height = 3845

  var svg = d3.select('#chart')
    .append('svg')
    .attr('viewBox', '0 0 ' + width + ' ' + height)
    .attr('preserveAspectRatio', 'none')

  var x = d3.scaleLinear().domain([618300, 619100]).range([182, 6230])
  var y = d3.scaleLinear().domain([4135100, 4135600]).range([3810, 30])
  var px = function (p) { return x(618000 + p[0]) }
  var py = function (p) { return y(4135000 + p[1]) }
  var metre = x(618001) - x(618000)

  var straight = d3.line().x(px).y(py)
  var smooth = d3.line().x(px).y(py).curve(d3.curveCatmullRom.alpha(0.5))
  var closed = d3.line().x(px).y(py).curve(d3.curveLinearClosed)
  var smoothClosed = d3.line().x(px).y(py).curve(d3.curveCatmullRomClosed.alpha(0.5))

  var defs = svg.append('defs')
  defs.append('clipPath').attr('id', 'frame-clip').append('rect')
    .attr('x', x.range()[0]).attr('y', y.range()[1])
    .attr('width', x.range()[1] - x.range()[0]).attr('height', y.range()[0] - y.range()[1])
  var hatch = defs.append('pattern').attr('id', 'stairs-hatch')
    .attr('width', 5).attr('height', 5).attr('patternUnits', 'userSpaceOnUse')
  hatch.append('line').attr('x1', 2).attr('x2', 2).attr('y1', 0).attr('y2', 5)
    .attr('stroke', '#ee1c25').attr('stroke-width', 1)

  // sheet edge on the far left
  svg.append('line').attr('x1', 27).attr('x2', 27).attr('y1', 0).attr('y2', height)
    .attr('stroke', '#222').attr('stroke-width', 2.5)

  var map = svg.append('g').attr('clip-path', 'url(#frame-clip)')

  function drawLines(list, gen, color, widthPx, dash) {
    map.append('g').selectAll('path').data(list).enter().append('path')
      .attr('d', gen)
      .attr('fill', 'none')
      .attr('stroke', color)
      .attr('stroke-width', widthPx)
      .attr('stroke-linejoin', 'round')
      .attr('stroke-dasharray', dash || null)
  }

  drawLines(contoursThin, smooth, '#f4973a', 1.6)
  drawLines(contoursThick, smooth, '#f38b1c', 3.2)
  drawLines(greenCurves, smooth, '#22e038', 1.6)
  drawLines(parcels, straight, '#ee2a35', 1.5)
  drawLines(parcelCurves, smooth, '#ee2a35', 1.5)
  drawLines(buildingsOpen, straight, '#ee1c25', 3)
  drawLines(buildingsClosed, closed, '#ee1c25', 3)
  drawLines(cliffLines, straight, '#333', 1.4)
  drawLines(cliffDashed, smooth, '#333', 1.5, '38 14')

  map.append('g').selectAll('circle').data(parcelCircles).enter().append('circle')
    .attr('cx', px).attr('cy', py)
    .attr('r', function (d) { return d[2] * metre })
    .attr('fill', 'none').attr('stroke', '#ee2a35').attr('stroke-width', 1.5)

  map.append('g').selectAll('path').data(stairs).enter().append('path')
    .attr('d', closed)
    .attr('fill', 'url(#stairs-hatch)').attr('stroke', '#ee1c25').attr('stroke-width', 1.5)

  drawLines(coastLines, smooth, '#0a0ae6', 3)
  drawLines(islets, smoothClosed, '#0a0ae6', 3)

  // vegetation
  map.append('g').selectAll('rect').data(greenDots).enter().append('rect')
    .attr('x', function (d) { return px(d) - 1.5 }).attr('y', function (d) { return py(d) - 1.5 })
    .attr('width', 3).attr('height', 3).attr('fill', '#22e038')
  map.append('g').selectAll('rect').data(blackDots).enter().append('rect')
    .attr('x', function (d) { return px(d) - 1.5 }).attr('y', function (d) { return py(d) - 1.5 })
    .attr('width', 3).attr('height', 3).attr('fill', '#111')
  map.append('g').selectAll('circle').data(treeCircles).enter().append('circle')
    .attr('cx', px).attr('cy', py).attr('r', 7)
    .attr('fill', 'none').attr('stroke', '#22e038').attr('stroke-width', 1.5)
  var asterisk = d3.symbol().type(d3.symbolAsterisk).size(270)
  map.append('g').selectAll('path').data(palmStars).enter().append('path')
    .attr('d', asterisk)
    .attr('transform', function (d) { return 'translate(' + px(d) + ',' + py(d) + ')' })
    .attr('fill', 'none').attr('stroke', '#22e038').attr('stroke-width', 1.5)

  drawLines(greenLines, straight, '#22e038', 2.4)
  // dash dot dot boundary on top
  drawLines(boundaries, straight, '#000', 7, '37 8 6 8 6 8')

  // markers
  function drawMarkers(list, r, w) {
    var g = map.append('g').selectAll('g').data(list).enter().append('g')
      .attr('transform', function (d) { return 'translate(' + px(d) + ',' + py(d) + ')' })
      .attr('fill', 'none').attr('stroke', '#000').attr('stroke-width', w)
    g.append('circle').attr('r', r)
    var k = r * Math.SQRT1_2
    g.append('line').attr('x1', -k).attr('y1', -k).attr('x2', k).attr('y2', k)
    g.append('line').attr('x1', -k).attr('y1', k).attr('x2', k).attr('y2', -k)
  }
  drawMarkers(mojonPoints, 8.5, 2.8)
  drawMarkers(zPoints, 8.5, 1.8)

  function drawText(list, opts) {
    return map.append('g').selectAll('text').data(list).enter().append('text')
      .attr('transform', function (d) {
        var t = 'translate(' + px(d.slice(1)) + ',' + py(d.slice(1)) + ')'
        return d[3] ? t + ' rotate(' + d[3] + ')' : t
      })
      .attr('text-anchor', 'middle')
      .attr('dy', '0.36em')
      .style('font-size', opts.size + 'px')
      .style('font-style', opts.italic ? 'italic' : null)
      .style('font-weight', opts.bold ? 'bold' : null)
      .style('font-family', opts.family || null)
      .style('letter-spacing', opts.spacing ? opts.spacing + 'px' : null)
      .text(function (d) { return d[0] })
  }

  // small dot where each height was measured
  map.append('g').selectAll('circle').data(spotHeights).enter().append('circle')
    .attr('cx', function (d) { return px(d.slice(1)) - 19 })
    .attr('cy', function (d) { return py(d.slice(1)) + 11 })
    .attr('r', 1).attr('fill', '#222')
  drawText(spotHeights, { size: 15 })
  drawText(floorMarks, { size: 17 })
  drawText(roadLabels, { size: 20 })
  drawText(contourLabels, { size: 20 })
  drawText(suLabels.map(function (p) { return ['S.U.', p[0], p[1]] }), { size: 41 })
  drawText(seaLabels, { size: 25, italic: true })
  drawText(seaTitle, { size: 46, italic: true, bold: true })

  var camFont = '"DejaVu Sans", sans-serif'
  drawText(mojonNames.map(function (n, i) { return [n, mojonLabelPoints[i][0], mojonLabelPoints[i][1]] }), { size: 27, family: camFont, spacing: 2.5 })
  drawText(zNames.map(function (n, i) { return [n, zLabelPoints[i][0], zLabelPoints[i][1]] }), { size: 24, family: camFont, spacing: 1 })

  // Z.M.T. notes
  zmtNotes.forEach(function (note) {
    var serif = '"Liberation Serif", serif'
    drawText([[zmtLine1, note.a[0], note.a[1]]], { size: 25, italic: true, family: serif })
      .attr('textLength', 273).attr('lengthAdjust', 'spacing').attr('xml:space', 'preserve').style('white-space', 'pre')
    drawText([[zmtLine2, note.b[0], note.b[1]]], { size: 25, italic: true, family: serif })
      .attr('textLength', 232).attr('lengthAdjust', 'spacing').attr('xml:space', 'preserve').style('white-space', 'pre')
    map.append('g').selectAll('path').data([note.left, note.right]).enter().append('path')
      .attr('d', closed).attr('fill', 'none').attr('stroke', '#111').attr('stroke-width', 2)
  })

  // crosses at the grid intersections
  var grid = []
  eastTicks.slice(1, -1).forEach(function (e) {
    northTicks.slice(1, -1).forEach(function (n) { grid.push([e, n]) })
  })
  var cross = svg.append('g').attr('stroke', '#666').attr('stroke-width', 1.5)
  cross.selectAll('.h').data(grid).enter().append('line').attr('class', 'h')
    .attr('x1', function (d) { return x(d[0]) - 12 }).attr('x2', function (d) { return x(d[0]) + 12 })
    .attr('y1', function (d) { return y(d[1]) }).attr('y2', function (d) { return y(d[1]) })
  cross.selectAll('.v').data(grid).enter().append('line').attr('class', 'v')
    .attr('x1', function (d) { return x(d[0]) }).attr('x2', function (d) { return x(d[0]) })
    .attr('y1', function (d) { return y(d[1]) - 12 }).attr('y2', function (d) { return y(d[1]) + 12 })

  // frame: inward ticks on all four sides, labels on left and bottom
  function styleAxis(g) {
    g.selectAll('.domain').attr('stroke', '#555').attr('stroke-width', 2.5)
    g.selectAll('.tick line').attr('stroke', '#666').attr('stroke-width', 1.5)
    g.selectAll('text').style('font-size', '20.5px').attr('fill', '#111')
  }
  var bottomAxis = svg.append('g').attr('transform', 'translate(0,' + y.range()[0] + ')')
    .call(d3.axisBottom(x).tickValues(eastTicks).tickFormat(d3.format('d')).tickSizeInner(-12).tickSizeOuter(0).tickPadding(7))
    .call(styleAxis)
  var leftAxis = svg.append('g').attr('transform', 'translate(' + x.range()[0] + ',0)')
    .call(d3.axisLeft(y).tickValues(northTicks).tickFormat(d3.format('d')).tickSizeInner(-12).tickSizeOuter(0).tickPadding(26))
    .call(styleAxis)
  svg.append('g').attr('transform', 'translate(0,' + y.range()[1] + ')')
    .call(d3.axisTop(x).tickValues(eastTicks).tickFormat('').tickSizeInner(-12).tickSizeOuter(0))
    .call(styleAxis)
  svg.append('g').attr('transform', 'translate(' + x.range()[1] + ',0)')
    .call(d3.axisRight(y).tickValues(northTicks).tickFormat('').tickSizeInner(-12).tickSizeOuter(0))
    .call(styleAxis)

  // end labels are nudged inside the sheet
  bottomAxis.selectAll('text').attr('dx', function (d) {
    return d === eastTicks[0] ? 11 : (d === eastTicks[eastTicks.length - 1] ? -5 : 0)
  })
  leftAxis.selectAll('text').attr('dy', function (d) {
    var shift = d === northTicks[northTicks.length - 1] ? 8 : (d === northTicks[0] ? -6 : 0)
    return (7 + shift) + 'px'
  })
}

drawViz()
</script>
</body>
</html>
